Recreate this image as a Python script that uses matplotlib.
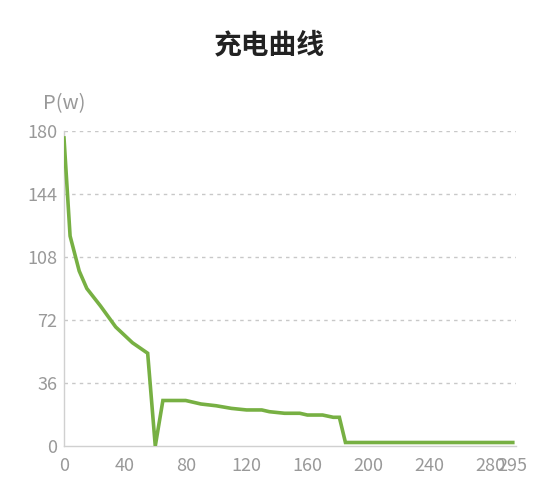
import matplotlib
matplotlib.use('Agg')
import matplotlib.pyplot as plt

plt.rcParams['font.family'] = ['Noto Sans CJK SC', 'DejaVu Sans']

# charging curve
time_x = [0, 4, 10, 15, 24, 34, 45, 55, 60, 65, 80, 90, 100, 110, 120, 130,
          135, 145, 155, 160, 170, 177, 181, 185, 295]
power_w = [176, 120, 100, 90, 80, 68, 59, 53, 0, 26, 26, 24, 23, 21.5, 20.6,
           20.6, 19.6, 18.7, 18.7, 17.7, 17.7, 16.4, 16.4, 2, 2]

x_ticks = [0, 40, 80, 120, 160, 200, 240, 280, 295]
y_ticks = [0, 36, 72, 108, 144, 180]

fig = plt.figure(figsize=(5.47, 5.0), dpi=100)
ax = fig.add_axes([0.117, 0.108, 0.826, 0.630])

ax.plot(time_x, power_w, color='#77b043', lw=2.6, solid_joinstyle='miter', zorder=3)

ax.set_xlim(0, 297)
ax.set_ylim(0, 180)
ax.set_xticks(x_ticks)
ax.set_yticks(y_ticks)
ax.tick_params(length=0, labelsize=13, labelcolor='#999999')
ax.tick_params(axis='x', pad=8)
ax.tick_params(axis='y', pad=5)

for v in y_ticks[1:]:
    ax.axhline(v, color='#c8c8c8', lw=1, ls=(0, (2.5, 3)), zorder=1)

for s in ['top', 'right']:
    ax.spines[s].set_visible(False)
for s in ['left', 'bottom']:
    ax.spines[s].set_color('#d0d0d0')
    ax.spines[s].set_linewidth(1)

fig.text(0.117, 0.792, 'P(w)', ha='center', va='center', fontsize=14.5, color='#999999')
fig.text(0.492, 0.91, '充电曲线', ha='center', va='center', fontsize=20,
         fontweight='bold', color='#222222')

fig.savefig('out.png', dpi=100)
